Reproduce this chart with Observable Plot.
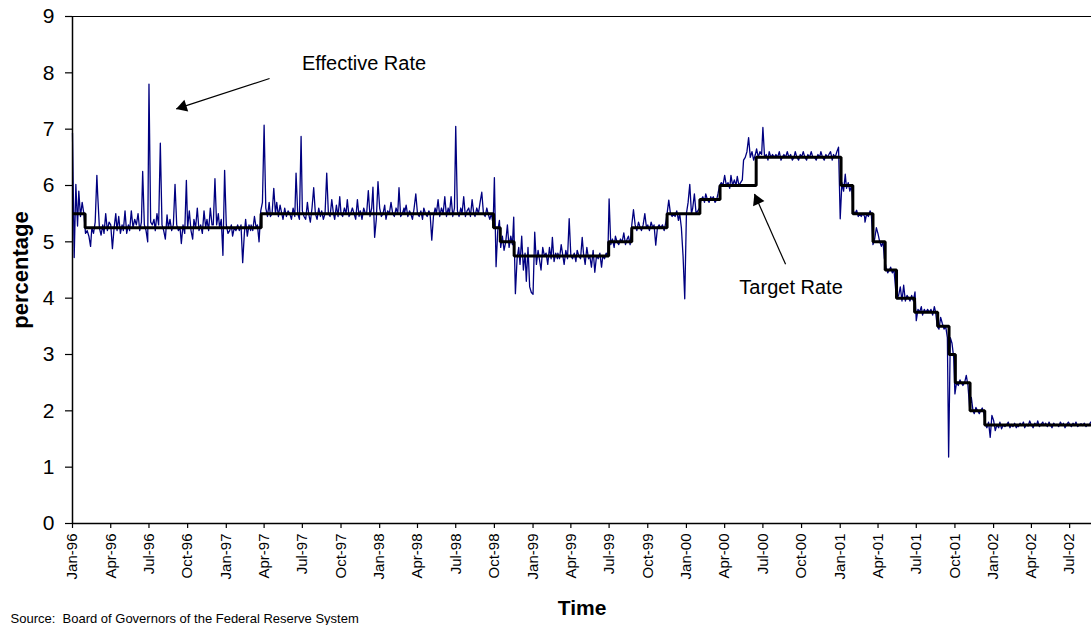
<!DOCTYPE html>
<html>
<head>
<meta charset="utf-8">
<script src="https://cdn.jsdelivr.net/npm/d3@7"></script>
<script src="https://cdn.jsdelivr.net/npm/@observablehq/plot@0.6"></script>
<style>
  html, body { margin: 0; padding: 0; background: #fff; }
  #chart svg { display: block; }
</style>
</head>
<body>
<div id="chart"></div>
<script>
// ---------- data ----------
// Effective federal funds rate: one row per month (Jan 1996 ... Aug 2002),
// values sampled on these days of the month
const slotDays = [1, 5, 9, 13, 16, 20, 24, 28];
const effStartYear = 1996;
const effRate = [
  // 1996
  [6.93, 4.72, 6.02, 5.28, 5.9, 5.45, 5.7, 5.5],
  [5.15, 5.2, 5.1, 4.92, 5.25, 5.15, 5.35, 6.18],
  [5.83, 5.25, 5.12, 5.3, 5.15, 5.5, 5.2, 5.35],
  [5.3, 4.88, 5.25, 5.5, 5.2, 5.45, 5.15, 5.3],
  [5.2, 5.55, 5.15, 5.3, 5.2, 5.55, 5.25, 5.4],
  [5.3, 5.5, 5.2, 5.35, 6.25, 5.3, 5.2, 5.0],
  [7.8, 5.35, 5.3, 5.4, 5.2, 5.5, 5.3, 6.75],
  [5.3, 5.2, 5.05, 5.48, 5.25, 5.4, 5.2, 5.3],
  [6.02, 5.3, 5.2, 5.25, 4.97, 5.3, 5.15, 6.09],
  [5.25, 5.55, 5.2, 5.05, 5.4, 5.25, 5.6, 5.2],
  [5.3, 5.15, 5.55, 5.25, 5.4, 5.2, 5.6, 5.3],
  [5.3, 6.12, 5.3, 5.5, 5.25, 5.4, 4.76, 6.27],
  // 1997
  [5.3, 5.15, 5.2, 5.3, 5.1, 5.25, 5.2, 5.3],
  [5.2, 5.3, 4.63, 5.15, 5.4, 5.1, 5.3, 5.2],
  [5.3, 5.2, 5.45, 5.25, 5.3, 5.0, 5.55, 5.7],
  [7.07, 5.6, 5.45, 5.7, 5.45, 5.5, 5.95, 5.5],
  [5.7, 5.45, 5.65, 5.5, 5.4, 5.6, 5.45, 5.55],
  [5.5, 5.4, 5.6, 5.45, 6.22, 5.5, 5.4, 6.87],
  [5.55, 5.45, 5.4, 5.7, 5.5, 5.35, 5.6, 5.96],
  [5.5, 5.4, 5.6, 5.45, 5.55, 5.4, 5.5, 6.22],
  [5.5, 5.45, 5.75, 5.5, 5.4, 5.65, 5.45, 5.8],
  [5.5, 5.45, 5.6, 5.5, 5.75, 5.45, 5.5, 5.6],
  [5.5, 5.4, 5.75, 5.45, 5.55, 5.4, 5.6, 5.5],
  [5.5, 5.91, 5.45, 5.6, 5.97, 5.08, 5.4, 6.07],
  // 1998
  [5.6, 5.45, 5.5, 5.65, 5.4, 5.55, 5.5, 5.7],
  [5.5, 5.45, 5.6, 5.5, 5.96, 5.45, 5.5, 5.6],
  [5.5, 5.65, 5.45, 5.55, 5.5, 5.4, 5.6, 5.85],
  [5.5, 5.45, 5.55, 5.4, 5.6, 5.5, 5.45, 5.55],
  [5.5, 5.03, 5.45, 5.6, 5.5, 5.75, 5.45, 5.6],
  [5.5, 5.8, 5.45, 5.6, 5.5, 5.8, 5.45, 5.6],
  [7.05, 5.55, 5.45, 5.6, 5.5, 5.8, 5.45, 5.55],
  [5.6, 5.45, 5.75, 5.5, 5.45, 5.6, 5.5, 5.7],
  [5.88, 5.5, 5.45, 5.6, 5.5, 5.4, 5.5, 5.3],
  [6.14, 4.56, 5.2, 5.38, 4.9, 5.1, 4.85, 5.0],
  [5.3, 4.9, 5.1, 4.95, 5.44, 4.08, 4.7, 4.9],
  [4.6, 5.1, 4.5, 4.8, 4.3, 4.9, 4.2, 4.1],
  // 1999
  [4.07, 5.17, 4.6, 4.85, 4.7, 4.5, 4.9, 4.75],
  [4.8, 4.6, 4.9, 4.7, 5.08, 4.65, 4.8, 4.7],
  [4.8, 4.7, 4.95, 4.75, 4.6, 4.85, 4.7, 5.41],
  [4.75, 4.7, 4.8, 4.65, 4.85, 4.75, 4.7, 5.08],
  [4.8, 4.6, 4.9, 4.7, 4.75, 4.55, 4.85, 4.46],
  [4.75, 4.7, 4.8, 4.55, 4.75, 4.7, 4.8, 4.75],
  [5.76, 4.95, 5.05, 4.9, 5.1, 5.0, 4.95, 5.05],
  [5.0, 5.16, 4.95, 5.05, 5.1, 4.95, 5.3, 5.57],
  [5.3, 5.2, 5.35, 5.25, 5.2, 5.3, 5.5, 5.25],
  [5.3, 5.2, 5.35, 5.25, 5.3, 4.94, 5.25, 5.3],
  [5.25, 5.3, 5.2, 5.35, 5.5, 5.74, 5.5, 5.45],
  [5.5, 5.45, 5.55, 5.38, 5.5, 5.25, 4.75, 3.99],
  // 2000
  [5.5, 5.7, 6.02, 5.5, 5.6, 5.85, 5.5, 5.55],
  [5.6, 5.75, 5.8, 5.7, 5.85, 5.75, 5.7, 5.8],
  [5.75, 5.8, 5.7, 5.75, 5.85, 6.0, 6.05, 6.0],
  [6.18, 6.0, 6.05, 5.95, 6.18, 6.0, 6.1, 6.0],
  [6.16, 6.0, 6.05, 6.1, 6.45, 6.5, 6.6, 6.85],
  [6.5, 6.6, 6.45, 6.55, 6.65, 6.5, 6.6, 6.55],
  [7.03, 6.5, 6.55, 6.45, 6.6, 6.5, 6.55, 6.5],
  [6.55, 6.5, 6.6, 6.45, 6.5, 6.55, 6.5, 6.6],
  [6.5, 6.55, 6.45, 6.5, 6.6, 6.5, 6.45, 6.55],
  [6.5, 6.6, 6.5, 6.45, 6.55, 6.5, 6.6, 6.5],
  [6.5, 6.45, 6.55, 6.5, 6.6, 6.5, 6.45, 6.55],
  [6.5, 6.55, 6.6, 6.45, 6.55, 6.5, 6.6, 6.68],
  // 2001
  [5.41, 6.05, 5.9, 6.2, 5.95, 6.05, 5.9, 6.0],
  [5.55, 5.5, 5.56, 5.45, 5.5, 5.45, 5.5, 5.45],
  [5.35, 5.5, 5.45, 5.55, 5.5, 4.95, 5.05, 5.25],
  [5.14, 5.0, 4.92, 5.0, 4.71, 4.55, 4.45, 4.5],
  [4.55, 4.45, 4.5, 4.15, 4.0, 4.05, 4.2, 3.95],
  [4.23, 3.95, 4.05, 4.0, 3.95, 4.05, 3.95, 4.11],
  [3.6, 3.8, 3.75, 3.85, 3.7, 3.8, 3.75, 3.8],
  [3.75, 3.8, 3.7, 3.85, 3.75, 3.5, 3.45, 3.66],
  [3.55, 3.45, 3.5, 3.3, 1.18, 3.3, 3.2, 2.95],
  [2.3, 2.51, 2.45, 2.55, 2.5, 2.45, 2.5, 2.63],
  [2.45, 2.05, 2.24, 2.0, 1.95, 2.06, 2.0, 1.95],
  [2.0, 2.05, 1.95, 1.75, 1.7, 1.8, 1.53, 1.92],
  // 2002
  [1.83, 1.65, 1.75, 1.7, 1.8, 1.68, 1.75, 1.72],
  [1.75, 1.8, 1.7, 1.76, 1.72, 1.78, 1.7, 1.75],
  [1.72, 1.78, 1.74, 1.8, 1.7, 1.76, 1.73, 1.82],
  [1.75, 1.7, 1.78, 1.74, 1.82, 1.72, 1.76, 1.8],
  [1.74, 1.78, 1.72, 1.8, 1.75, 1.7, 1.78, 1.74],
  [1.76, 1.72, 1.8, 1.74, 1.78, 1.7, 1.76, 1.8],
  [1.76, 1.72, 1.78, 1.74, 1.8, 1.72, 1.75, 1.77],
  [1.74, 1.78, 1.72, 1.76, 1.74, 1.8]
];

// Target federal funds rate (step changes)
const targetDates = ["1996-01-01","1996-01-31","1997-03-25","1998-09-29","1998-10-15","1998-11-17",
  "1999-06-30","1999-08-24","1999-11-16","2000-02-02","2000-03-21","2000-06-15",
  "2001-01-03","2001-01-31","2001-03-20","2001-04-18","2001-05-15","2001-06-27",
  "2001-08-21","2001-09-17","2001-10-02","2001-11-06","2001-12-11","2002-08-22"];
const targetRates = [5.5, 5.25, 5.5, 5.25, 5.0, 4.75, 5.0, 5.25, 5.5, 5.75, 6.0, 6.5,
  6.0, 5.5, 5.0, 4.5, 4.0, 3.75, 3.5, 3.0, 2.5, 2.0, 1.75, 1.75];

// axes
const xDomain = ["1996-01-01", "2002-08-22"];
const xTickLabels = ["Jan-96","Apr-96","Jul-96","Oct-96","Jan-97","Apr-97","Jul-97","Oct-97",
  "Jan-98","Apr-98","Jul-98","Oct-98","Jan-99","Apr-99","Jul-99","Oct-99",
  "Jan-00","Apr-00","Jul-00","Oct-00","Jan-01","Apr-01","Jul-01","Oct-01",
  "Jan-02","Apr-02","Jul-02"];
const yTicks = [0, 1, 2, 3, 4, 5, 6, 7, 8, 9];
const yDomain = [0, 9];
const xTitle = "Time";
const yTitle = "percentage";
const sourceNote = "Source:\u00a0 Board of Governors of the Federal Reserve System";

// annotations
const annLabels = ["Effective Rate", "Target Rate"];
const annTextX = ["1997-06-30", "2000-05-06"];
const annTextY = [8.17, 4.18];
const arrowFromX = ["1997-04-14", "2000-08-24"];
const arrowFromY = [7.9, 4.6];
const arrowToX = ["1996-09-04", "2000-06-11"];
const arrowToY = [7.36, 5.85];

// ---------- build ----------
const parseTick = d3.utcParse("%b-%y");
const effData = effRate.flatMap((row, m) =>
  row.map((v, i) => ({
    date: new Date(Date.UTC(effStartYear + Math.floor(m / 12), m % 12, slotDays[i])),
    rate: v
  })));
const targetData = targetDates.map((d, i) => ({date: new Date(d), rate: targetRates[i]}));
const annText = annLabels.map((t, i) => ({x: new Date(annTextX[i]), y: annTextY[i], text: t}));
const arrows = annLabels.map((t, i) => ({
  x1: new Date(arrowFromX[i]), y1: arrowFromY[i],
  x2: new Date(arrowToX[i]), y2: arrowToY[i]
}));

const font = "'Liberation Sans', Arial, Helvetica, sans-serif";

const chart = Plot.plot({
  width: 1091,
  height: 625,
  marginLeft: 72,
  marginRight: 0,
  marginTop: 16,
  marginBottom: 102,
  style: {fontFamily: font, background: "#fff", color: "#000", overflow: "visible"},
  x: {type: "utc", domain: xDomain.map(d => new Date(d)), label: null},
  y: {domain: yDomain, label: null},
  marks: [
    Plot.axisY({ticks: yTicks, tickSize: 7, tickPadding: 11, fontSize: 21, label: null, stroke: "#000", strokeWidth: 1.2}),
    Plot.axisX({ticks: xTickLabels.map(parseTick), tickFormat: d3.utcFormat("%b-%y"),
      tickRotate: -90, tickSize: 5, tickPadding: 5, fontSize: 15, label: null, stroke: "#000", strokeWidth: 1.2}),
    Plot.ruleY([yDomain[1]], {stroke: "#000", strokeWidth: 1.2}),
    Plot.line(effData, {x: "date", y: "rate", stroke: "#000080", strokeWidth: 1.3}),
    Plot.line(targetData, {x: "date", y: "rate", curve: "step-after", stroke: "#000",
      strokeWidth: 3, strokeLinejoin: "miter", strokeLinecap: "butt"}),
    Plot.ruleX([new Date(xDomain[0])], {stroke: "#000", strokeWidth: 1.5}),
    Plot.ruleY([yDomain[0]], {stroke: "#000", strokeWidth: 1.5}),
    Plot.link(arrows, {x1: "x1", y1: "y1", x2: "x2", y2: "y2", stroke: "#000", strokeWidth: 1.2}),
    Plot.dot(arrows.slice(0, 1), {x: "x2", y: "y2", symbol: "triangle", r: 4.6, fill: "#000",
      stroke: "none", rotate: 252, dx: 6.6, dy: -2.2}),
    Plot.dot(arrows.slice(1, 2), {x: "x2", y: "y2", symbol: "triangle", r: 4.6, fill: "#000",
      stroke: "none", rotate: 336, dx: 2.8, dy: 6.4}),
    Plot.text(annText, {x: "x", y: "y", text: "text", textAnchor: "start", fontSize: 20, fill: "#000"}),
    Plot.text([xTitle], {frameAnchor: "bottom", textAnchor: "middle", lineAnchor: "bottom", dy: 91,
      fontSize: 21, fontWeight: "bold", fill: "#000"}),
    Plot.text([yTitle], {frameAnchor: "left", textAnchor: "middle", lineAnchor: "middle", dx: -52, rotate: -90,
      fontSize: 22, fontWeight: "bold", fill: "#000"}),
    Plot.text([sourceNote], {frameAnchor: "bottom-left", textAnchor: "start", lineAnchor: "bottom",
      dx: -62, dy: 99, fontSize: 13, fill: "#000"})
  ]
});
document.getElementById("chart").appendChild(chart);
</script>
</body>
</html>
